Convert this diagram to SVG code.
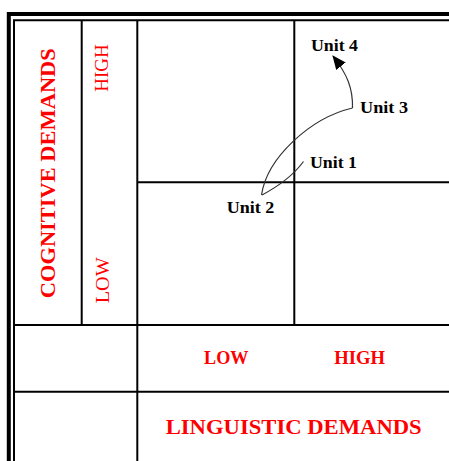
<svg xmlns="http://www.w3.org/2000/svg" width="449" height="461" viewBox="0 0 449 461">
<defs>
<style>
.grid{stroke:#000;stroke-width:2;fill:none}
.thick{stroke:#000;stroke-width:4;fill:none}
.red{fill:#ff0000;font-family:"Liberation Serif","Times New Roman",serif}
.b{font-weight:bold}
.unit{fill:#000;font-family:"Liberation Serif","Times New Roman",serif;font-weight:bold;font-size:17.5px}
.conn{stroke:#333;stroke-width:1.2;fill:none}
</style>
<marker id="arr" viewBox="0 0 14 12" refX="13" refY="6" markerWidth="14" markerHeight="12" markerUnits="userSpaceOnUse" orient="auto">
<path d="M0,0 L14,6 L0,12 Z" fill="#000"/>
</marker>
</defs>
<rect width="449" height="461" fill="#fff"/>
<g id="frame">
<path class="thick" d="M8.8,461 V14 H449"/>
<path class="grid" d="M14,461 V20.3 H449"/>
<path class="grid" d="M81.7,20 V325"/>
<path class="grid" d="M137.3,20 V461"/>
<path class="grid" d="M294.3,20 V325"/>
<path class="grid" d="M137,182.3 H449"/>
<path class="grid" d="M14,325 H449"/>
<path class="grid" d="M14,391.7 H449"/>
</g>
<g id="axis-cognitive">
<text class="red b" font-size="20" text-anchor="middle" textLength="250" lengthAdjust="spacingAndGlyphs" transform="translate(55,173.2) rotate(-90)">COGNITIVE DEMANDS</text>
</g>
<g id="label-high-v">
<text class="red" font-size="18" text-anchor="middle" textLength="47.4" lengthAdjust="spacingAndGlyphs" transform="translate(108.3,68) rotate(-90)">HIGH</text>
</g>
<g id="label-low-v">
<text class="red" font-size="18" text-anchor="middle" textLength="46" lengthAdjust="spacingAndGlyphs" transform="translate(109,280.3) rotate(-90)">LOW</text>
</g>
<g id="label-low-h">
<text class="red b" font-size="18" x="226.2" y="364" text-anchor="middle" textLength="44.3" lengthAdjust="spacingAndGlyphs">LOW</text>
</g>
<g id="label-high-h">
<text class="red b" font-size="18" x="359.7" y="364" text-anchor="middle" textLength="50.7" lengthAdjust="spacingAndGlyphs">HIGH</text>
</g>
<g id="axis-linguistic">
<text class="red b" font-size="22" x="293.7" y="434" text-anchor="middle" textLength="256" lengthAdjust="spacingAndGlyphs">LINGUISTIC DEMANDS</text>
</g>
<g id="unit1"><text class="unit" x="310" y="168" textLength="47" lengthAdjust="spacingAndGlyphs">Unit 1</text></g>
<g id="unit2"><text class="unit" x="226.7" y="213" textLength="47.6" lengthAdjust="spacingAndGlyphs">Unit 2</text></g>
<g id="unit3"><text class="unit" x="360" y="112.5" textLength="48" lengthAdjust="spacingAndGlyphs">Unit 3</text></g>
<g id="unit4"><text class="unit" x="311" y="51" textLength="47" lengthAdjust="spacingAndGlyphs">Unit 4</text></g>
<g id="connectors">
<path class="conn" d="M262,195 Q290,180 303.5,161.5"/>
<path class="conn" d="M261.5,195 C267,158 310,118 352.5,108"/>
<path class="conn" d="M352.5,108 C353,88 347,74 333,56" marker-end="url(#arr)"/>
</g>
</svg>
